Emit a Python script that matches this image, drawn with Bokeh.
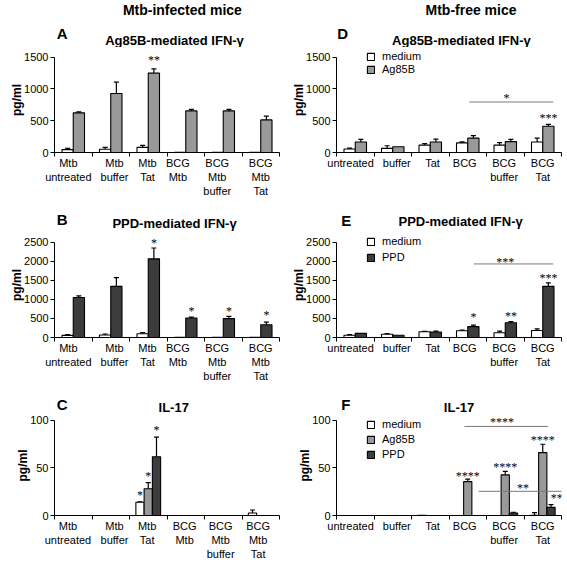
from bokeh.plotting import figure
from bokeh.models import (Range1d, FixedTicker, LabelSet, ColumnDataSource,
                          Whisker, TeeHead, Legend, LegendItem)
from bokeh.core.properties import value
from bokeh.layouts import gridplot
from bokeh.embed import file_html
from bokeh.resources import INLINE

FONT = "Liberation Sans"

# ---------------- data ----------------
cats_infected = ["Mtb\nuntreated", "Mtb\nbuffer", "Mtb\nTat", "BCG\nMtb", "BCG\nMtb\nbuffer", "BCG\nMtb\nTat"]
cats_free = ["untreated", "buffer", "Tat", "BCG", "BCG\nbuffer", "BCG\nTat"]

# A: Ag85B-mediated IFN-g, Mtb-infected
a_medium = [46, 51, 81, 3, 3, 3]
a_medium_err = [20, 30, 31, 0, 0, 0]
a_ag85b = [624, 929, 1249, 655, 655, 513]
a_ag85b_err = [16, 178, 66, 25, 25, 61]

# B: PPD-mediated IFN-g, Mtb-infected
b_medium = [55, 67, 100, 3, 3, 3]
b_medium_err = [20, 25, 26, 0, 0, 0]
b_ppd = [1049, 1342, 2064, 512, 495, 336]
b_ppd_err = [41, 227, 285, 25, 59, 67]

# C: IL-17, Mtb-infected
c_medium = [0, 0, 13.9, 0, 0, 2.7]
c_medium_err = [0, 0, 0.4, 0, 0, 3.1]
c_ag85b = [0, 0, 28.1, 0, 0, 0]
c_ag85b_err = [0, 0, 6.5, 0, 0, 0]
c_ppd = [0, 0, 61.7, 0, 0, 0]
c_ppd_err = [0, 0, 20.7, 0, 0, 0]

# D: Ag85B-mediated IFN-g, Mtb-free
d_medium = [55, 65, 116, 151, 116, 166]
d_medium_err = [15, 41, 25, 15, 40, 60]
d_ag85b = [166, 91, 166, 226, 171, 413]
d_ag85b_err = [40, 0, 45, 41, 35, 30]

# E: PPD-mediated IFN-g, Mtb-free
e_medium = [59, 84, 151, 176, 126, 185]
e_medium_err = [16, 16, 8, 17, 42, 42]
e_ppd = [109, 59, 143, 285, 386, 1342]
e_ppd_err = [0, 0, 25, 42, 33, 93]

# F: IL-17, Mtb-free
f_medium = [0, 0, 0.3, 0, 0, 0.3]
f_medium_err = [0, 0, 0, 0, 0, 2.7]
f_ag85b = [0, 0, 0, 35.6, 42.7, 66.1]
f_ag85b_err = [0, 0, 0, 2.7, 3.7, 8.8]
f_ppd = [0, 0, 0, 0, 2.7, 8.5]
f_ppd_err = [0, 0, 0, 0, 0.7, 3.0]

# significance marks above bars: (text, category index, series, y)
a_stars = [("**", 2, "Ag85B", 1503)]
b_stars = [("*", 2, "PPD", 2567), ("*", 3, "PPD", 763), ("*", 4, "PPD", 772), ("*", 5, "PPD", 671)]
c_stars = [("*", 2, "medium", 24.4), ("*", 2, "Ag85B", 45.1), ("*", 2, "PPD", 92.5)]
d_stars = [("***", 5, "Ag85B", 594)]
e_stars = [("*", 3, "PPD", 629), ("**", 4, "PPD", 654), ("***", 5, "PPD", 1653)]
f_stars = [("****", 3, "Ag85B", 44.7), ("****", 4, "Ag85B", 54.6), ("****", 5, "Ag85B", 83)]

# comparison lines: (x start, x end, y) and their marks (text, x, y)
d_lines = [(3.54, 5.78, 795)]
d_line_marks = [("*", 4.53, 911)]
e_lines = [(3.66, 5.78, 1930)]
e_line_marks = [("***", 4.5, 2072)]
f_lines = [(3.41, 5.64, 93.6), (3.79, 6.13, 25.4)]
f_line_marks = [("****", 4.41, 101.4), ("**", 4.97, 32.2), ("**", 5.87, 21.4)]

COLORS = {"medium": "#ffffff", "Ag85B": "#999999", "PPD": "#3c3c3c"}

# small horizontal nudges of the category labels (layout only)
SHIFT_AB = [-0.13, 0.1, -0.02, -0.21, -0.16, 0.0]
SHIFT_C = [-0.14, 0.1, -0.03, -0.03, -0.07, -0.07]
SHIFT_DEF = [-0.125, 0.107, 0.06, -0.08, -0.03, 0.0]


def make_panel(cats, series, ymax, ystep, width, fh, ext, bl, br, bb, shifts,
               stars, lines=(), line_marks=(), legend_pos=None, legend_spacing=0):
    n = len(cats)
    p = figure(width=width, height=ext + fh + bb, x_range=Range1d(0, n),
               y_range=Range1d(0, ymax * (fh + ext) / fh),
               output_backend="svg", toolbar_location=None, title=None,
               min_border_left=bl, min_border_right=br, min_border_top=0, min_border_bottom=bb)
    p.outline_line_color = None
    p.xgrid.visible = False
    p.ygrid.visible = False
    p.background_fill_color = "white"
    p.border_fill_color = "white"

    k = len(series)
    bw = 0.3 if k == 2 else 0.22
    offs = [-0.15, 0.15] if k == 2 else [-0.22, 0.0, 0.22]
    off_of = {}
    items = []
    for (name, vals, errs), off in zip(series, offs):
        off_of[name] = off
        xs = [i + 0.5 + off for i in range(n)]
        r = p.vbar(x=xs, top=vals, width=bw, fill_color=COLORS[name],
                   line_color="black", line_width=1.1)
        items.append(LegendItem(label=name, renderers=[r]))
        ex = [x for x, e in zip(xs, errs) if e > 0]
        lo = [v for v, e in zip(vals, errs) if e > 0]
        up = [v + e for v, e in zip(vals, errs) if e > 0]
        if ex:
            src = ColumnDataSource(dict(x=ex, lower=lo, upper=up))
            w = Whisker(source=src, base="x", lower="lower", upper="upper", dimension="height",
                        line_color="black", line_width=1.2,
                        upper_head=TeeHead(size=5, line_color="black", line_width=1.2),
                        lower_head=None)
            p.add_layout(w)

    for x0, x1, y in lines:
        p.segment(x0=[x0], y0=[y], x1=[x1], y1=[y], line_color="#7a7a7a", line_width=1)

    sx, sy, st = [], [], []
    for t, ci, s, y in stars:
        sx.append(ci + 0.5 + off_of[s]); sy.append(y); st.append(t)
    for t, x, y in line_marks:
        sx.append(x); sy.append(y); st.append(t)
    if st:
        ls = LabelSet(x="x", y="y", text="text", source=ColumnDataSource(dict(x=sx, y=sy, text=st)),
                      text_align="center", text_baseline="middle", text_font=FONT,
                      text_font_size="12px", text_color="black", y_offset=-3)
        p.add_layout(ls)

    yax = p.yaxis[0]
    yax.ticker = FixedTicker(ticks=list(range(0, ymax + 1, ystep)))
    yax.bounds = (0, ymax)
    yax.major_tick_out = 4
    yax.major_tick_in = 0
    yax.minor_tick_line_color = None
    yax.axis_line_color = "black"
    yax.major_tick_line_color = "black"
    yax.major_label_text_font = FONT
    yax.major_label_text_font_size = "11px"
    yax.major_label_text_color = "black"
    yax.major_label_standoff = 2
    yax.axis_label = "pg/ml"
    yax.axis_label_text_font = FONT
    yax.axis_label_text_font_size = "12px"
    yax.axis_label_text_font_style = "bold"
    yax.axis_label_text_color = "black"
    yax.axis_label_standoff = -3

    xax = p.xaxis[0]
    label_pos = [i + 0.5 + s for i, s in enumerate(shifts)]
    xax.ticker = FixedTicker(ticks=label_pos, minor_ticks=list(range(n + 1)))
    xax.major_label_overrides = {x: c for x, c in zip(label_pos, cats)}
    xax.major_tick_line_color = None
    xax.major_tick_out = 0
    xax.major_tick_in = 0
    xax.minor_tick_out = 4
    xax.minor_tick_in = 0
    xax.minor_tick_line_color = "black"
    xax.axis_line_color = "black"
    xax.major_label_text_font = FONT
    xax.major_label_text_font_size = "11px"
    xax.major_label_text_color = "black"
    xax.major_label_standoff = 0

    if legend_pos is not None:
        lg = Legend(items=items, location=legend_pos, orientation="vertical",
                    glyph_width=9, glyph_height=9, label_height=12, label_standoff=7,
                    spacing=legend_spacing, padding=0, margin=0,
                    label_text_font=FONT, label_text_font_size="11px", label_text_color="black",
                    border_line_alpha=0, background_fill_alpha=0)
        p.add_layout(lg)
    return p


def make_header(width, height, texts):
    h = figure(width=width, height=height, x_range=Range1d(0, width), y_range=Range1d(height, 0),
               x_axis_type=None, y_axis_type=None, output_backend="svg", toolbar_location=None,
               min_border=0, title=None)
    h.outline_line_color = None
    h.background_fill_color = "white"
    h.border_fill_color = "white"
    for t, x, y, size, align in texts:
        h.text(x=[x], y=[y], text=[t], text_font=value(FONT), text_font_size=value(size),
               text_font_style="bold", text_align=align, text_baseline="middle", text_color="black")
    return h


LW, RW = 285, 281
LBL, LBR, RBL, RBR = 54, 6, 51, 5
FH = 98

hA = make_header(LW, 47, [("Mtb-infected mice", 162, 9, "14px", "center"),
                          ("A", 3, 33, "15px", "left"),
                          ("Ag85B-mediated IFN-γ", 152, 40, "13px", "center")])
hD = make_header(RW, 47, [("Mtb-free mice", 168, 9, "14px", "center"),
                          ("D", 1, 33, "15px", "left"),
                          ("Ag85B-mediated IFN-γ", 156, 40, "13px", "center")])
pA = make_panel(cats_infected, [("medium", a_medium, a_medium_err), ("Ag85B", a_ag85b, a_ag85b_err)],
                1500, 500, LW, FH, 10, LBL, LBR, 45, SHIFT_AB, a_stars)
pD = make_panel(cats_free, [("medium", d_medium, d_medium_err), ("Ag85B", d_ag85b, d_ag85b_err)],
                1500, 500, RW, FH, 10, RBL, RBR, 45, SHIFT_DEF, d_stars, d_lines, d_line_marks,
                legend_pos=(30, 77), legend_spacing=1)

hB = make_header(LW, 32, [("B", 3, 19, "15px", "left"),
                          ("PPD-mediated IFN-γ", 152, 23, "13px", "center")])
hE = make_header(RW, 32, [("E", 6, 20, "15px", "left"),
                          ("PPD-mediated IFN-γ", 155, 21, "13px", "center")])
pB = make_panel(cats_infected, [("medium", b_medium, b_medium_err), ("PPD", b_ppd, b_ppd_err)],
                2500, 500, LW, FH, 10, LBL, LBR, 45, SHIFT_AB, b_stars)
pE = make_panel(cats_free, [("medium", e_medium, e_medium_err), ("PPD", e_ppd, e_ppd_err)],
                2500, 500, RW, FH, 10, RBL, RBR, 45, SHIFT_DEF, e_stars, e_lines, e_line_marks,
                legend_pos=(30, 74), legend_spacing=4)

hC = make_header(LW, 30, [("C", 3, 19, "15px", "left"),
                          ("IL-17", 151, 22, "13px", "center")])
hF = make_header(RW, 30, [("F", 6, 19, "15px", "left"),
                          ("IL-17", 153, 22, "13px", "center")])
pC = make_panel(cats_infected, [("medium", c_medium, c_medium_err), ("Ag85B", c_ag85b, c_ag85b_err),
                                ("PPD", c_ppd, c_ppd_err)],
                100, 50, LW, FH, 5, LBL, LBR, 45, SHIFT_C, c_stars)
pF = make_panel(cats_free, [("medium", f_medium, f_medium_err), ("Ag85B", f_ag85b, f_ag85b_err),
                            ("PPD", f_ppd, f_ppd_err)],
                100, 50, RW, FH, 5, RBL, RBR, 45, SHIFT_DEF, f_stars, f_lines, f_line_marks,
                legend_pos=(30, 55), legend_spacing=3)

grid = gridplot([[hA, hD], [pA, pD], [hB, hE], [pB, pE], [hC, hF], [pC, pF]], toolbar_location=None)

open("out.html", "w").write(file_html(grid, INLINE))
